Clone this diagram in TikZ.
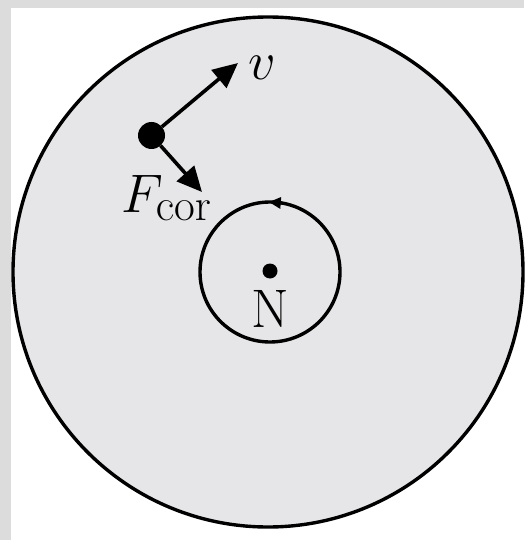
\documentclass[tikz,border=0pt]{standalone}
\usetikzlibrary{arrows.meta}
\definecolor{framegray}{HTML}{DCDCDC}
\definecolor{diskgray}{HTML}{E6E6E8}
\tikzset{
  ring/.style={draw=black, circle, inner sep=0pt, outer sep=0pt},
  blob/.style={fill=black, circle, inner sep=0pt, outer sep=0pt},
  vec/.style={line width=3.6pt, -{Triangle[length=25pt,width=23pt]}},
  lab/.style={inner sep=0pt, font=\Huge, scale=2.18, transform shape},
}
\begin{document}
\begin{tikzpicture}[x=1pt,y=-1pt]
\useasboundingbox (0,0) rectangle (524,540);
\fill[framegray] (0,0) rectangle (524,540);
\fill[white] (11,8) rectangle (524,540);
\node[ring, line width=3.4pt, fill=diskgray, minimum size=510pt] (disk) at (268,272) {};
\node[ring, line width=3.4pt, minimum size=140pt] (orbit) at (270,272) {};
\draw[line width=3pt, -{Triangle[length=12pt,width=11pt]}] (orbit.80) -- (orbit.91);
\node[blob, minimum size=15pt] (N) at (270,271) {};
\node[lab, anchor=base] (Nlab) at (270,327) {N};
\node[blob, minimum size=27pt] (p) at (151.5,135.5) {};
\coordinate (vtip) at (238,63);
\coordinate (ftip) at (202,192);
\draw[vec] (p) -- (vtip);
\draw[vec] (p) -- (ftip);
\node[lab, anchor=base west] (vlab) at (248,80) {$v$};
\node[lab, anchor=base west] (flab) at (121,212) {$F_{\mathrm{cor}}$};
\end{tikzpicture}
\end{document}
